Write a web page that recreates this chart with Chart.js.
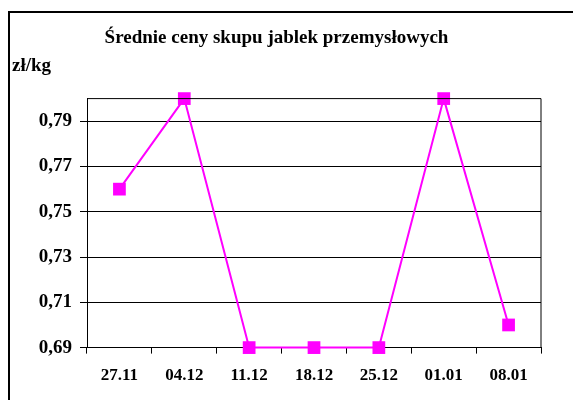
<!DOCTYPE html>
<html>
<head>
<meta charset="utf-8">
<script src="https://cdn.jsdelivr.net/npm/chart.js@4/dist/chart.umd.min.js"></script>
<style>
  html, body { margin: 0; padding: 0; background: #fff; }
  #wrap { position: absolute; left: 0; top: 0; width: 573px; height: 400px; }
</style>
</head>
<body>
<div id="wrap"><canvas id="c" width="573" height="400"></canvas></div>
<script>
const categories = ['27.11', '04.12', '11.12', '18.12', '25.12', '01.01', '08.01'];
const prices = [0.76, 0.80, 0.69, 0.69, 0.69, 0.80, 0.70];
const yTicks = [0.69, 0.71, 0.73, 0.75, 0.77, 0.79];
const yMin = 0.69;
const yMax = 0.80;
const titleText = 'Średnie ceny skupu jablek przemysłowych';
const unitText = 'zł/kg';

const serif = "'Liberation Serif', 'Times New Roman', serif";

const framePlugin = {
  id: 'frame',
  afterDraw(chart) {
    const ctx = chart.ctx;
    const a = chart.chartArea;
    ctx.save();
    ctx.fillStyle = '#000';
    ctx.fillRect(8, 11, 573 - 8, 2);
    ctx.fillRect(8, 11, 2, 400 - 11);
    ctx.strokeStyle = '#000';
    ctx.lineWidth = 1;
    ctx.beginPath();
    ctx.moveTo(a.left, a.top);
    ctx.lineTo(a.right, a.top);
    ctx.lineTo(a.right, a.bottom);
    ctx.stroke();
    ctx.restore();
  }
};

new Chart(document.getElementById('c'), {
  type: 'line',
  data: {
    labels: categories,
    datasets: [{
      data: prices,
      borderColor: '#FF00FF',
      backgroundColor: '#FF00FF',
      borderWidth: 2,
      pointStyle: 'rect',
      pointRadius: 9,
      pointBorderWidth: 0,
      pointBackgroundColor: '#FF00FF',
      tension: 0,
      clip: false
    }]
  },
  options: {
    responsive: false,
    animation: false,
    devicePixelRatio: 1,
    layout: { padding: { left: 12, right: 32, top: 0, bottom: 2 } },
    plugins: {
      legend: { display: false },
      tooltip: { enabled: false },
      title: {
        display: true,
        text: titleText,
        color: '#000',
        font: { family: serif, size: 19, weight: 'bold' },
        padding: { top: 27, bottom: 0 }
      },
      subtitle: {
        display: true,
        text: unitText,
        align: 'start',
        color: '#000',
        font: { family: serif, size: 19, weight: 'bold' },
        padding: { top: 5, bottom: 21 }
      }
    },
    scales: {
      x: {
        type: 'category',
        offset: true,
        grid: { offset: true, drawOnChartArea: false, drawTicks: true, tickLength: 6, color: '#000' },
        border: { color: '#000', width: 1 },
        ticks: {
          color: '#000',
          font: { family: serif, size: 17, weight: 'bold' },
          padding: 12,
          maxRotation: 0,
          autoSkip: false
        }
      },
      y: {
        min: yMin,
        max: yMax,
        afterBuildTicks: (s) => { s.ticks = yTicks.map(v => ({ value: v })); },
        afterFit: (s) => { s.width = 75; },
        grid: { color: '#000', drawTicks: true, tickLength: 7 },
        border: { color: '#000', width: 1 },
        ticks: {
          color: '#000',
          font: { family: serif, size: 19, weight: 'bold' },
          padding: 8,
          callback: (v) => Number(v).toFixed(2).replace('.', ',')
        }
      }
    }
  },
  plugins: [framePlugin]
});
</script>
</body>
</html>
